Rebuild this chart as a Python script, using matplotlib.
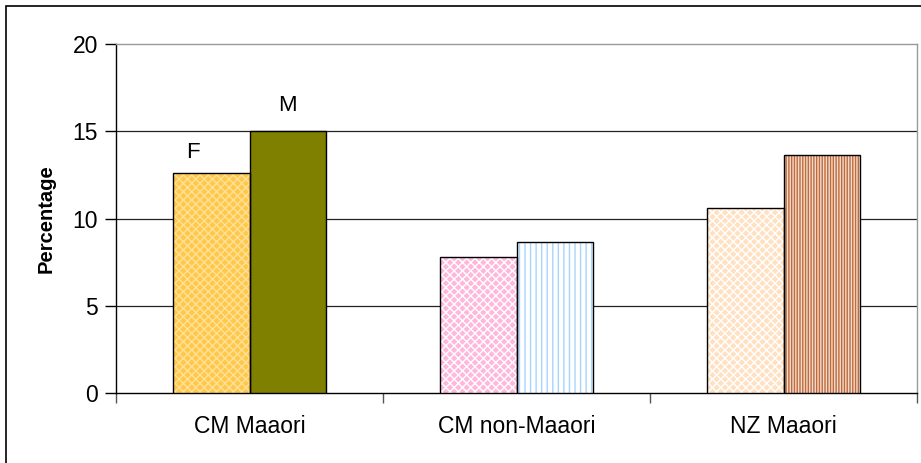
import numpy as np
import matplotlib.pyplot as plt
from matplotlib.patches import Rectangle

plt.rcParams['font.family'] = ['Liberation Sans', 'DejaVu Sans']

# data
groups = ['CM Maaori', 'CM non-Maaori', 'NZ Maaori']
female = [12.6, 7.8, 10.6]
male = [15.0, 8.65, 13.65]

# per-bar styling (face, hatch colour, hatch)
f_styles = [('#FFC84A', '#FFE199', 'xxxx'),
            ('#FFB8DC', '#FFFFFF', 'xxxx'),
            ('#FFE0C0', '#FFFFFF', 'xxxx')]
m_styles = [('#808000', '#808000', ''),
            ('#FFFFFF', '#A8D4FF', '|||'),
            ('#C06A3A', '#F2DCCF', '||||||')]

fig = plt.figure(figsize=(9.21, 4.63), dpi=100)
ax = fig.add_axes([116 / 921, 70 / 463, 801 / 921, 349 / 463])

x = np.arange(len(groups))
w = 0.285


def hatched_bar(xpos, h, face, hcol, hatch):
    plt.rcParams['hatch.linewidth'] = 1.0
    ax.bar(xpos, h, w, color=face, edgecolor=hcol, hatch=hatch, linewidth=0, zorder=3)
    ax.bar(xpos, h, w, fill=False, edgecolor='black', linewidth=1.0, zorder=4)


for i in range(len(groups)):
    hatched_bar(x[i] - w / 2, female[i], *f_styles[i])
    hatched_bar(x[i] + w / 2, male[i], *m_styles[i])

ax.text(x[0] - w / 2 - 0.07, 13.8, 'F', fontsize=16, ha='center', va='center')
ax.text(x[0] + w / 2, 16.5, 'M', fontsize=16, ha='center', va='center')

ax.set_xlim(-0.5, 2.5)
ax.set_ylim(0, 20)
ax.set_yticks([0, 5, 10, 15, 20])
ax.set_xticks(x)
ax.set_xticklabels(groups)
ax.set_xticks([-0.5, 0.5, 1.5, 2.5], minor=True)
ax.tick_params(axis='x', which='major', length=0, pad=16, labelsize=16.5)
ax.tick_params(axis='x', which='minor', length=7, color='#555555', width=1)
ax.tick_params(axis='y', length=8, width=1, labelsize=16.5, pad=5)

for yv in [5, 10, 15]:
    ax.axhline(yv, color='#222222', linewidth=0.9, zorder=1)

ax.spines['left'].set_color('black')
ax.spines['bottom'].set_color('black')
ax.spines['top'].set_color('#999999')
ax.spines['right'].set_color('#999999')
for s in ax.spines.values():
    s.set_linewidth(1.0)

ax.set_ylabel('Percentage', fontsize=14.5, fontweight='bold', labelpad=12)

# outer chart frame
fig.patches.append(Rectangle((6 / 921, -0.1), 1.2, (463 - 6) / 463 + 0.1,
                             transform=fig.transFigure, fill=False,
                             edgecolor='black', linewidth=1.2))

fig.savefig('out.png', dpi=100)
